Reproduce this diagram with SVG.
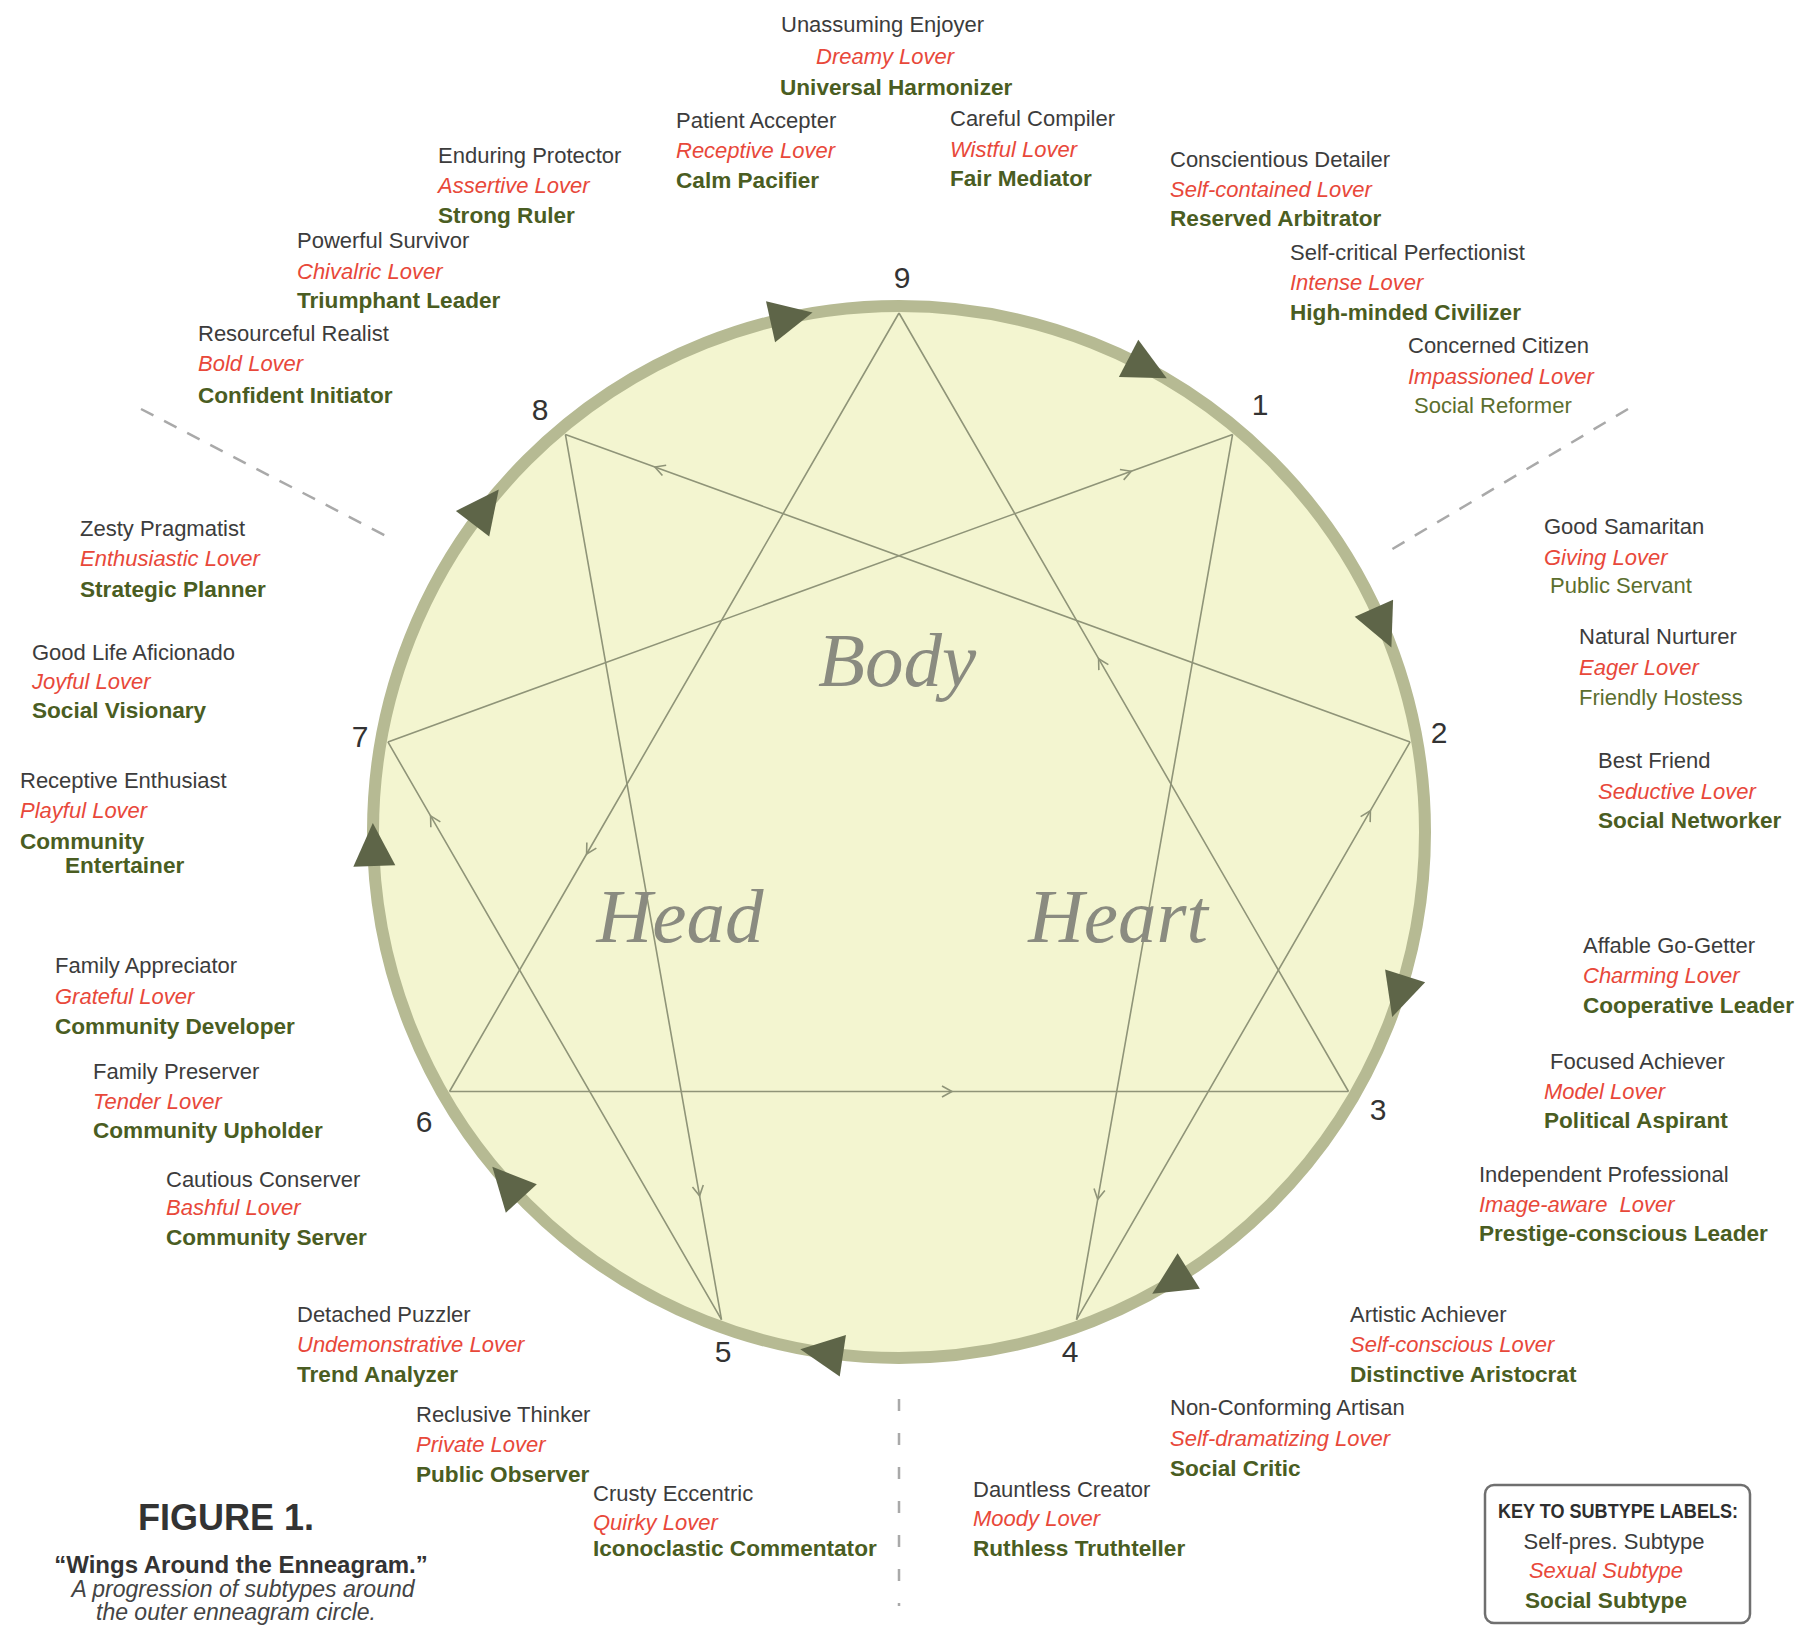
<svg xmlns="http://www.w3.org/2000/svg" xmlns:xlink="http://www.w3.org/1999/xlink" width="1808" height="1627" viewBox="0 0 1808 1627">
<style>
text{font-family:"Liberation Sans",Arial,sans-serif;font-size:22px}
.k{fill:#3c3c3c}
.r{fill:#e8483a;font-style:italic}
.g{fill:#4a5d22;font-weight:bold;font-size:22.6px}
.gl{fill:#5b6e2e}
.num{fill:#333;font-size:30px}
.big{font-family:"Liberation Serif","Times New Roman",serif;font-style:italic;font-size:77px;fill:#8a8b80;text-anchor:middle}
.ln{fill:none;stroke:#8f9478;stroke-width:1.6;marker-mid:url(#chev)}
.dash{fill:none;stroke:#a9a9a9;stroke-width:2.5}
.tri{fill:#5e6548}
</style>
<defs>
<marker id="chev" markerUnits="userSpaceOnUse" markerWidth="24" markerHeight="24" refX="0" refY="0" viewBox="-12 -12 24 24" orient="auto" overflow="visible">
<path d="M-10,-5.5 L0,0 L-10,5.5" fill="none" stroke="#8f9478" stroke-width="1.6"/>
</marker>
<path id="tri" d="M28,0 L-15,-21 L-15,21 Z"/>
</defs>
<rect width="1808" height="1627" fill="#ffffff"/>

<g id="dashes">
<line class="dash" x1="141" y1="409" x2="386" y2="536" stroke-dasharray="14 12"/>
<line class="dash" x1="1628" y1="409" x2="1389" y2="551" stroke-dasharray="14 12"/>
<line class="dash" x1="899" y1="1399" x2="899" y2="1606" stroke-dasharray="12 22"/>
</g>

<g id="circle">
<circle cx="899" cy="832" r="526" fill="#f3f5d0" stroke="#b6ba93" stroke-width="12"/>
</g>

<g id="connectors">
<path class="ln" d="M1410.1,741.9 L654.9,467 L565.4,434.4"/>
<path class="ln" d="M387.9,741.9 L1131.2,471.3 L1232.6,434.4"/>
<path class="ln" d="M899,313 L586.6,854 L449.5,1091.5"/>
<path class="ln" d="M1348.5,1091.5 L1098.6,658.7 L899,313"/>
<path class="ln" d="M449.5,1091.5 L952,1091.5 L1348.5,1091.5"/>
<path class="ln" d="M721.5,1319.7 L430.6,815.9 L387.9,741.9"/>
<path class="ln" d="M565.4,434.4 L699.6,1195.8 L721.5,1319.7"/>
<path class="ln" d="M1232.6,434.4 L1097.7,1199.3 L1076.5,1319.7"/>
<path class="ln" d="M1076.5,1319.7 L1370.4,810.7 L1410.1,741.9"/>
</g>

<g id="ring-arrows">
<use xlink:href="#tri" class="tri" transform="translate(1141.9,365.4) rotate(27.5)"/>
<use xlink:href="#tri" class="tri" transform="translate(1380,622) rotate(66)"/>
<use xlink:href="#tri" class="tri" transform="translate(1400.6,990.2) rotate(107.5)"/>
<use xlink:href="#tri" class="tri" transform="translate(1176,1279) rotate(148)"/>
<use xlink:href="#tri" class="tri" transform="translate(828,1353.5) rotate(188.5)"/>
<use xlink:href="#tri" class="tri" transform="translate(511.2,1187.4) rotate(227.5)"/>
<use xlink:href="#tri" class="tri" transform="translate(373.8,851) rotate(268)"/>
<use xlink:href="#tri" class="tri" transform="translate(481.7,511.8) rotate(307.5)"/>
<use xlink:href="#tri" class="tri" transform="translate(785.2,318.5) rotate(347.5)"/>
</g>

<g id="centers">
<text class="big" x="897" y="686">Body</text>
<text class="big" x="680" y="942">Head</text>
<text class="big" x="1118" y="942">Heart</text>
</g>

<g id="point-9"><text class="num" x="902" y="288" text-anchor="middle">9</text></g>
<g id="point-1"><text class="num" x="1260" y="415" text-anchor="middle">1</text></g>
<g id="point-2"><text class="num" x="1439" y="743" text-anchor="middle">2</text></g>
<g id="point-3"><text class="num" x="1378" y="1120" text-anchor="middle">3</text></g>
<g id="point-4"><text class="num" x="1070" y="1362" text-anchor="middle">4</text></g>
<g id="point-5"><text class="num" x="723" y="1362" text-anchor="middle">5</text></g>
<g id="point-6"><text class="num" x="424" y="1132" text-anchor="middle">6</text></g>
<g id="point-7"><text class="num" x="360" y="747" text-anchor="middle">7</text></g>
<g id="point-8"><text class="num" x="540" y="420" text-anchor="middle">8</text></g>

<g id="unassuming-enjoyer">
<text class="k" x="781" y="32">Unassuming Enjoyer</text>
<text class="r" x="816" y="64">Dreamy Lover</text>
<text class="g" x="780" y="95">Universal Harmonizer</text>
</g>
<g id="patient-accepter">
<text class="k" x="676" y="128">Patient Accepter</text>
<text class="r" x="676" y="158">Receptive Lover</text>
<text class="g" x="676" y="188">Calm Pacifier</text>
</g>
<g id="careful-compiler">
<text class="k" x="950" y="126">Careful Compiler</text>
<text class="r" x="950" y="157">Wistful Lover</text>
<text class="g" x="950" y="186">Fair Mediator</text>
</g>
<g id="enduring-protector">
<text class="k" x="438" y="163">Enduring Protector</text>
<text class="r" x="438" y="193">Assertive Lover</text>
<text class="g" x="438" y="223">Strong Ruler</text>
</g>
<g id="conscientious-detailer">
<text class="k" x="1170" y="167">Conscientious Detailer</text>
<text class="r" x="1170" y="197">Self-contained Lover</text>
<text class="g" x="1170" y="226">Reserved Arbitrator</text>
</g>
<g id="powerful-survivor">
<text class="k" x="297" y="248">Powerful Survivor</text>
<text class="r" x="297" y="279">Chivalric Lover</text>
<text class="g" x="297" y="308">Triumphant Leader</text>
</g>
<g id="self-critical-perfectionist">
<text class="k" x="1290" y="260">Self-critical Perfectionist</text>
<text class="r" x="1290" y="290">Intense Lover</text>
<text class="g" x="1290" y="320">High-minded Civilizer</text>
</g>
<g id="resourceful-realist">
<text class="k" x="198" y="341">Resourceful Realist</text>
<text class="r" x="198" y="371">Bold Lover</text>
<text class="g" x="198" y="403">Confident Initiator</text>
</g>
<g id="concerned-citizen">
<text class="k" x="1408" y="353">Concerned Citizen</text>
<text class="r" x="1408" y="384">Impassioned Lover</text>
<text class="gl" x="1414" y="413">Social Reformer</text>
</g>
<g id="good-samaritan">
<text class="k" x="1544" y="534">Good Samaritan</text>
<text class="r" x="1544" y="565">Giving Lover</text>
<text class="gl" x="1550" y="593">Public Servant</text>
</g>
<g id="zesty-pragmatist">
<text class="k" x="80" y="536">Zesty Pragmatist</text>
<text class="r" x="80" y="566">Enthusiastic Lover</text>
<text class="g" x="80" y="597">Strategic Planner</text>
</g>
<g id="natural-nurturer">
<text class="k" x="1579" y="644">Natural Nurturer</text>
<text class="r" x="1579" y="675">Eager Lover</text>
<text class="gl" x="1579" y="705">Friendly Hostess</text>
</g>
<g id="good-life-aficionado">
<text class="k" x="32" y="660">Good Life Aficionado</text>
<text class="r" x="32" y="689">Joyful Lover</text>
<text class="g" x="32" y="718">Social Visionary</text>
</g>
<g id="best-friend">
<text class="k" x="1598" y="768">Best Friend</text>
<text class="r" x="1598" y="799">Seductive Lover</text>
<text class="g" x="1598" y="828">Social Networker</text>
</g>
<g id="receptive-enthusiast">
<text class="k" x="20" y="788">Receptive Enthusiast</text>
<text class="r" x="20" y="818">Playful Lover</text>
<text class="g" x="20" y="849">Community</text>
<text class="g" x="65" y="873">Entertainer</text>
</g>
<g id="family-appreciator">
<text class="k" x="55" y="973">Family Appreciator</text>
<text class="r" x="55" y="1004">Grateful Lover</text>
<text class="g" x="55" y="1034">Community Developer</text>
</g>
<g id="affable-go-getter">
<text class="k" x="1583" y="953">Affable Go-Getter</text>
<text class="r" x="1583" y="983">Charming Lover</text>
<text class="g" x="1583" y="1013">Cooperative Leader</text>
</g>
<g id="family-preserver">
<text class="k" x="93" y="1079">Family Preserver</text>
<text class="r" x="93" y="1109">Tender Lover</text>
<text class="g" x="93" y="1138">Community Upholder</text>
</g>
<g id="focused-achiever">
<text class="k" x="1550" y="1069">Focused Achiever</text>
<text class="r" x="1544" y="1099">Model Lover</text>
<text class="g" x="1544" y="1128">Political Aspirant</text>
</g>
<g id="cautious-conserver">
<text class="k" x="166" y="1187">Cautious Conserver</text>
<text class="r" x="166" y="1215">Bashful Lover</text>
<text class="g" x="166" y="1245">Community Server</text>
</g>
<g id="independent-professional">
<text class="k" x="1479" y="1182">Independent Professional</text>
<text class="r" x="1479" y="1212" xml:space="preserve">Image-aware  Lover</text>
<text class="g" x="1479" y="1241">Prestige-conscious Leader</text>
</g>
<g id="detached-puzzler">
<text class="k" x="297" y="1322">Detached Puzzler</text>
<text class="r" x="297" y="1352">Undemonstrative Lover</text>
<text class="g" x="297" y="1382">Trend Analyzer</text>
</g>
<g id="artistic-achiever">
<text class="k" x="1350" y="1322">Artistic Achiever</text>
<text class="r" x="1350" y="1352">Self-conscious Lover</text>
<text class="g" x="1350" y="1382">Distinctive Aristocrat</text>
</g>
<g id="reclusive-thinker">
<text class="k" x="416" y="1422">Reclusive Thinker</text>
<text class="r" x="416" y="1452">Private Lover</text>
<text class="g" x="416" y="1482">Public Observer</text>
</g>
<g id="non-conforming-artisan">
<text class="k" x="1170" y="1415">Non-Conforming Artisan</text>
<text class="r" x="1170" y="1446">Self-dramatizing Lover</text>
<text class="g" x="1170" y="1476">Social Critic</text>
</g>
<g id="crusty-eccentric">
<text class="k" x="593" y="1501">Crusty Eccentric</text>
<text class="r" x="593" y="1530">Quirky Lover</text>
<text class="g" x="593" y="1556">Iconoclastic Commentator</text>
</g>
<g id="dauntless-creator">
<text class="k" x="973" y="1497">Dauntless Creator</text>
<text class="r" x="973" y="1526">Moody Lover</text>
<text class="g" x="973" y="1556">Ruthless Truthteller</text>
</g>

<g id="caption">
<text x="138" y="1530" style="font-size:36px;font-weight:bold;fill:#333">FIGURE 1.</text>
<text x="241" y="1573" text-anchor="middle" style="font-size:24px;font-weight:bold;fill:#333">“Wings Around the Enneagram.”</text>
<text x="243" y="1597" text-anchor="middle" style="font-size:23px;font-style:italic;fill:#444">A progression of subtypes around</text>
<text x="236" y="1620" text-anchor="middle" style="font-size:23px;font-style:italic;fill:#444">the outer enneagram circle.</text>
</g>

<g id="key">
<rect x="1485" y="1485" width="265" height="138" rx="9" fill="#ffffff" stroke="#6f6f6f" stroke-width="2.5"/>
<text x="1618" y="1518" text-anchor="middle" textLength="240" lengthAdjust="spacingAndGlyphs" style="font-size:21px;font-weight:bold;fill:#2e2e2e">KEY TO SUBTYPE LABELS:</text>
<text class="k" x="1614" y="1549" text-anchor="middle">Self-pres. Subtype</text>
<text class="r" x="1606" y="1578" text-anchor="middle">Sexual Subtype</text>
<text class="g" x="1606" y="1608" text-anchor="middle">Social Subtype</text>
</g>
</svg>
